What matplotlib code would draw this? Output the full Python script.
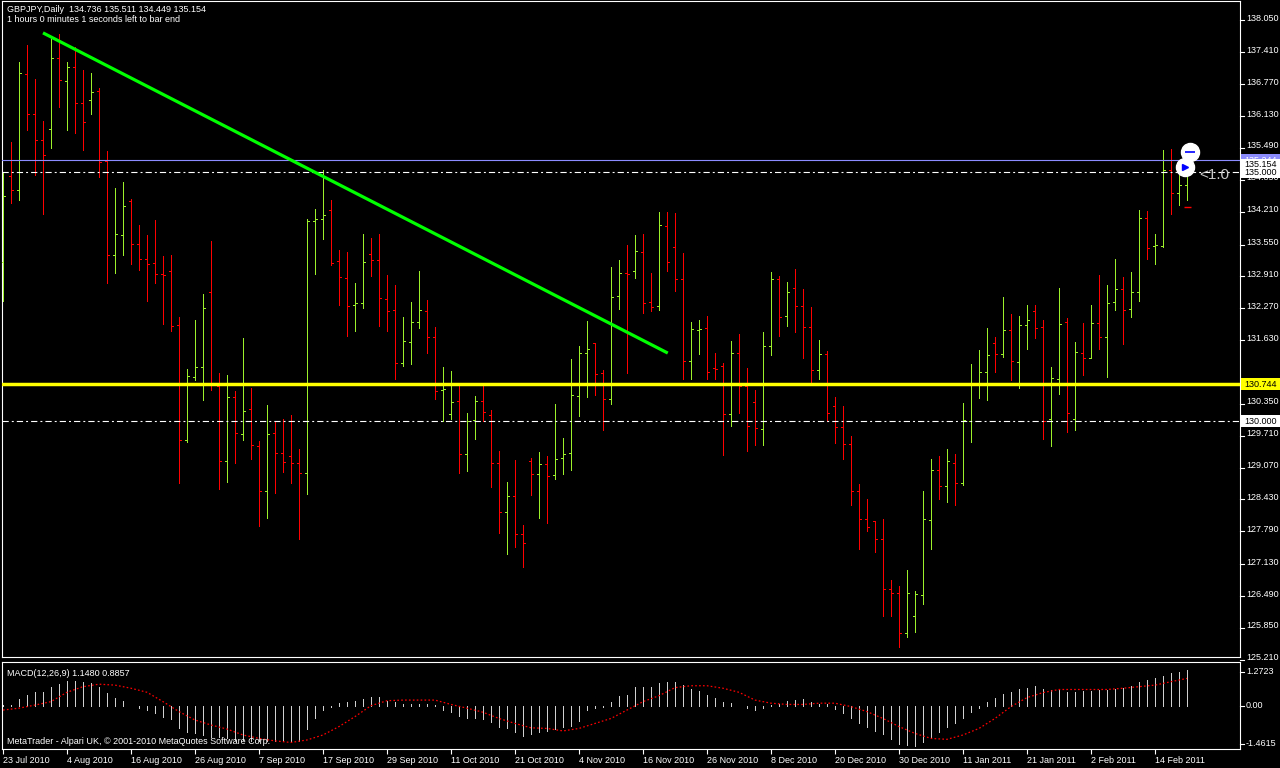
import numpy as np
import matplotlib
matplotlib.use('Agg')
import matplotlib.pyplot as plt
from matplotlib import transforms
from matplotlib.patches import Rectangle

plt.rcParams['font.family'] = ['Liberation Sans', 'DejaVu Sans']
plt.rcParams['lines.scale_dashes'] = False

# ================= text =================
symbol_text = "GBPJPY,Daily  134.736 135.511 134.449 135.154"
timer_text = "1 hours 0 minutes 1 seconds left to bar end"
macd_text = "MACD(12,26,9) 1.1480 0.8857"
copyright_text = "MetaTrader - Alpari UK, \u00a9 2001-2010 MetaQuotes Software Corp."

date_labels = ["23 Jul 2010", "4 Aug 2010", "16 Aug 2010", "26 Aug 2010", "7 Sep 2010",
               "17 Sep 2010", "29 Sep 2010", "11 Oct 2010", "21 Oct 2010", "4 Nov 2010",
               "16 Nov 2010", "26 Nov 2010", "8 Dec 2010", "20 Dec 2010", "30 Dec 2010",
               "11 Jan 2011", "21 Jan 2011", "2 Feb 2011", "14 Feb 2011"]

# ================= daily OHLC =================
opens = [133.20, 134.93, 134.64, 136.97, 136.18, 135.64, 135.86, 137.29, 136.83, 137.11,
         136.39, 136.45, 136.63, 135.22, 133.33, 133.74, 134.42, 133.57, 133.25, 133.17,
         132.95, 133.01, 131.93, 129.62, 130.89, 131.10, 132.59, 130.70, 129.20, 130.48,
         129.74, 130.24, 129.50, 128.61, 129.76, 129.36, 129.30, 129.16, 128.96, 134.02,
         134.06, 134.24, 133.21, 132.87, 132.33, 132.37, 133.35, 133.24, 132.46, 132.23,
         131.17, 131.59, 131.99, 132.21, 131.69, 130.62, 130.14, 130.40, 129.34, 130.02,
         130.40, 130.12, 129.16, 128.17, 128.51, 127.73, 129.20, 128.94, 129.14, 128.92,
         129.26, 129.36, 130.50, 131.37, 131.57, 130.97, 130.44, 132.51, 132.97, 133.01,
         133.39, 132.39, 132.31, 133.92, 133.51, 132.85, 131.22, 131.84, 131.87, 131.08,
         131.11, 130.14, 131.37, 130.70, 130.38, 129.84, 131.51, 132.85, 132.11, 132.67,
         132.31, 131.89, 131.04, 131.35, 130.30, 129.88, 129.54, 128.61, 128.03, 127.99,
         127.63, 126.63, 126.55, 125.74, 126.09, 126.52, 128.01, 129.02, 128.71, 129.16,
         128.76, 130.00, 130.74, 130.99, 131.57, 131.35, 131.83, 131.20, 131.93, 132.21,
         131.89, 130.04, 130.84, 131.99, 130.04, 131.37, 131.27, 131.97, 131.69, 132.39,
         132.65, 132.25, 132.59, 134.08, 133.52, 133.53, 135.04, 134.58, 134.736]
highs = [135.00, 135.61, 137.21, 137.56, 136.87, 136.03, 137.68, 137.78, 137.21, 137.51,
         137.05, 136.99, 136.69, 135.43, 134.68, 134.81, 134.46, 133.94, 133.74, 134.04,
         133.32, 133.34, 132.09, 131.05, 132.03, 132.56, 133.62, 130.96, 130.93, 130.61,
         131.67, 130.67, 129.60, 130.33, 129.99, 130.05, 130.12, 129.44, 134.06, 134.26,
         135.05, 134.44, 133.44, 133.40, 132.78, 133.76, 133.68, 133.76, 132.94, 132.74,
         132.09, 132.40, 133.02, 132.44, 131.89, 131.09, 131.01, 130.75, 130.17, 130.51,
         130.72, 130.23, 129.40, 128.78, 129.22, 127.92, 129.27, 129.38, 129.30, 130.35,
         129.66, 131.25, 131.52, 132.01, 131.57, 131.03, 133.10, 133.24, 133.54, 133.74,
         133.77, 132.98, 134.20, 134.21, 134.19, 133.38, 131.99, 132.03, 132.11, 131.37,
         131.17, 131.61, 131.75, 131.07, 130.63, 131.79, 133.00, 132.92, 132.80, 133.06,
         132.66, 132.30, 131.63, 131.41, 130.49, 130.31, 129.70, 128.74, 128.44, 127.99,
         128.04, 126.81, 126.69, 127.01, 126.59, 128.60, 129.24, 129.30, 129.44, 129.34,
         130.37, 131.15, 131.43, 131.87, 131.69, 132.50, 132.15, 132.11, 132.34, 132.34,
         132.03, 131.09, 132.68, 132.07, 131.59, 131.97, 132.34, 132.94, 132.74, 133.26,
         132.90, 133.00, 134.24, 134.22, 133.76, 135.45, 135.47, 135.01, 135.511]
lows = [132.42, 134.39, 134.44, 135.85, 134.95, 134.17, 135.49, 136.32, 135.84, 135.78,
        135.45, 136.18, 134.91, 132.78, 132.98, 133.34, 133.16, 133.04, 132.42, 132.78,
        131.96, 131.82, 128.77, 129.59, 130.82, 130.43, 130.63, 128.65, 128.79, 129.17,
        129.63, 129.24, 127.90, 128.06, 128.57, 128.99, 128.77, 127.64, 128.55, 132.96,
        133.67, 133.14, 132.34, 131.72, 131.82, 132.28, 132.92, 131.92, 131.82, 130.85,
        131.12, 131.16, 131.88, 131.38, 130.45, 130.00, 130.05, 128.97, 129.01, 129.65,
        130.00, 128.69, 127.76, 127.34, 127.48, 127.08, 128.53, 128.06, 127.96, 128.84,
        128.95, 129.03, 130.11, 130.49, 130.53, 129.83, 130.35, 132.26, 130.96, 132.88,
        132.18, 132.22, 132.23, 133.02, 132.62, 130.84, 130.84, 131.36, 130.84, 130.85,
        129.33, 129.91, 130.17, 129.41, 129.53, 129.53, 131.34, 131.72, 131.92, 131.80,
        131.28, 130.76, 130.84, 130.00, 129.57, 129.24, 128.32, 127.44, 127.80, 127.38,
        126.09, 126.10, 125.47, 125.67, 125.76, 126.34, 127.44, 128.43, 128.38, 128.31,
        128.73, 129.59, 130.47, 130.43, 130.98, 131.30, 130.82, 130.67, 131.45, 131.68,
        129.64, 129.51, 130.55, 129.79, 129.83, 130.93, 131.27, 131.45, 130.88, 132.24,
        131.56, 132.10, 132.42, 133.25, 133.16, 133.51, 134.17, 134.35, 134.449]
closes = [134.52, 134.64, 136.99, 136.18, 135.64, 135.34, 137.29, 136.85, 137.11, 136.39,
          136.02, 136.61, 135.20, 133.33, 133.76, 134.32, 133.57, 133.25, 133.15, 132.95,
          132.93, 131.91, 129.62, 130.90, 131.10, 132.27, 130.73, 129.20, 130.48, 129.76,
          130.20, 129.52, 128.61, 129.74, 129.36, 129.18, 129.16, 128.96, 134.03, 134.06,
          134.14, 133.18, 132.89, 132.31, 132.37, 133.19, 133.24, 132.48, 132.21, 131.17,
          131.61, 131.99, 132.23, 131.69, 130.60, 130.65, 130.39, 129.34, 130.00, 130.40,
          130.18, 129.16, 128.17, 128.51, 127.73, 127.55, 128.94, 129.14, 128.90, 129.24,
          129.34, 130.52, 131.37, 131.45, 130.95, 130.44, 132.49, 132.98, 132.95, 133.41,
          132.37, 132.29, 133.94, 133.19, 132.85, 131.22, 131.85, 131.86, 131.00, 131.06,
          130.14, 131.37, 130.70, 129.90, 129.86, 131.51, 132.85, 132.09, 132.60, 132.31,
          131.89, 131.03, 131.35, 130.16, 129.88, 129.54, 128.61, 128.03, 127.88, 127.63,
          126.63, 126.55, 125.74, 126.56, 126.53, 128.04, 129.02, 128.71, 129.20, 128.76,
          130.02, 130.74, 130.98, 131.33, 131.35, 131.83, 131.22, 131.93, 132.03, 131.87,
          130.00, 130.86, 131.95, 130.16, 131.39, 131.27, 131.97, 131.69, 132.37, 132.65,
          132.23, 132.59, 134.08, 133.49, 133.54, 135.04, 134.58, 134.74, 135.154]

# ================= MACD(12,26,9) =================
macd_hist = [0.03, 0.03, 0.22, 0.35, 0.44, 0.46, 0.62, 0.71, 0.80, 0.80,
             0.76, 0.73, 0.62, 0.41, 0.25, 0.16, 0.01, -0.07, -0.13, -0.24,
             -0.34, -0.42, -0.72, -0.82, -0.88, -0.93, -1.01, -1.01, -1.04, -1.09,
             -1.09, -1.12, -1.12, -1.13, -1.13, -1.13, -1.12, -1.12, -0.74, -0.37,
             -0.13, -0.02, 0.09, 0.14, 0.17, 0.22, 0.29, 0.29, 0.16, 0.14,
             0.05, 0.05, 0.05, 0.05, 0.03, -0.13, -0.18, -0.32, -0.37, -0.40,
             -0.42, -0.50, -0.66, -0.72, -0.84, -0.95, -0.91, -0.82, -0.80, -0.74,
             -0.69, -0.63, -0.48, -0.13, -0.05, -0.02, 0.14, 0.31, 0.35, 0.61,
             0.61, 0.61, 0.74, 0.78, 0.78, 0.67, 0.53, 0.48, 0.35, 0.27,
             0.14, 0.09, 0.01, -0.07, -0.14, -0.07, 0.03, 0.07, 0.17, 0.19,
             0.24, 0.13, 0.07, 0.05, -0.11, -0.24, -0.37, -0.53, -0.66, -0.80,
             -0.91, -1.06, -1.23, -1.25, -1.27, -1.14, -0.99, -0.82, -0.66, -0.56,
             -0.40, -0.18, -0.05, 0.14, 0.25, 0.37, 0.44, 0.55, 0.59, 0.64,
             0.55, 0.51, 0.51, 0.46, 0.46, 0.48, 0.49, 0.50, 0.52, 0.56,
             0.59, 0.64, 0.77, 0.83, 0.89, 0.96, 1.05, 1.10, 1.148]
# signal line read at every second bar
signal_vals = [-0.13, -0.07, 0.03, 0.14, 0.44, 0.62, 0.70, 0.67, 0.57, 0.44,
               0.14, -0.18, -0.45, -0.61, -0.74, -0.93, -1.04, -1.12, -1.17, -1.09,
               -0.93, -0.66, -0.34, 0.01, 0.17, 0.19, 0.19, 0.19, 0.05, -0.07,
               -0.20, -0.40, -0.56, -0.70, -0.72, -0.80, -0.72, -0.56, -0.40, -0.13,
               0.14, 0.33, 0.59, 0.65, 0.65, 0.57, 0.44, 0.19, 0.09, 0.05,
               0.05, 0.09, 0.09, -0.02, -0.18, -0.40, -0.66, -0.88, -1.04, -1.07,
               -0.93, -0.72, -0.40, -0.02, 0.27, 0.43, 0.53, 0.53, 0.53, 0.53,
               0.57, 0.62, 0.67, 0.78, 0.8857]

price_ticks = [138.050, 137.410, 136.770, 136.130, 135.490, 134.850, 134.210, 133.550,
               132.910, 132.270, 131.630, 130.350, 129.710, 129.070, 128.430, 127.790,
               127.130, 126.490, 125.850, 125.210]
macd_tick_labels = ["1.2723", "0.00", "-1.4615"]
macd_tick_pos = [1.10, 0.0, -1.21]

# chart objects
trend_bars = [5.0, 83.1]
trend_prices = [137.80, 131.37]
support_level = 130.744
purple_level = 135.244
bid_level = 135.154
round_levels = [135.000, 130.000]

# ================= plot =================
W, H = 1280, 768
up_color = '#9CF02A'
down_color = '#FF0000'

fig = plt.figure(figsize=(W / 100, H / 100), dpi=100, facecolor='black')


def px_axes(x0, y0, x1, y1):
    return fig.add_axes([x0 / W, 1 - y1 / H, (x1 - x0) / W, (y1 - y0) / H])


ax = px_axes(2, 1, 1240, 657)
ax2 = px_axes(2, 662, 1240, 749)

for a in (ax, ax2):
    a.set_facecolor('black')
    a.set_xlim(-0.125, -0.125 + 1238 / 8)
    for s in a.spines.values():
        s.set_color('white')
        s.set_linewidth(0.8)
    a.set_yticks([])

ax.set_ylim(125.267, 138.44)
ax2.set_ylim(-1.380, 1.412)

n = np.arange(len(opens))
o = np.array(opens)
c = np.array(closes)
colors = np.where(c >= o, up_color, down_color)

ax.vlines(n, lows, highs, colors=colors, lw=0.5, antialiased=False, zorder=3)
ax.hlines(o, n - 0.3, n, colors=colors, lw=0.5, antialiased=False, zorder=3)
ax.hlines(c, n, n + 0.3, colors=colors, lw=0.5, antialiased=False, zorder=3)

# horizontal lines
for lvl in round_levels:
    ax.axhline(lvl, color='white', lw=0.8, dashes=(4.5, 2.2, 1.4, 2.2), zorder=4)
ax.axhline(purple_level, color='#8C8CFF', lw=0.8, zorder=4)
ax.axhline(support_level, color='#FFFF00', lw=2.5, zorder=4)

ax.plot(trend_bars, trend_prices, color='#00FF00', lw=2.3, solid_capstyle='butt', zorder=5)

# markers near the last bar
ax.plot([148.4, 147.75], [135.41, 135.11], 'o', ms=13, mfc='white', mec='white', zorder=7)
ax.plot([147.75], [135.11], '>', ms=5, color='#0000FF', zorder=8)
ax.plot([148.4], [135.41], '_', ms=7, mew=1.2, color='#0000FF', zorder=8)
ax.hlines(134.30, 147.6, 148.5, color='red', lw=1, zorder=6)
fig.text(1199 / W, 1 - 175 / H, "<1.0", color='#C8C8C8', fontsize=11, va='center')

# price axis
trans = transforms.blended_transform_factory(fig.transFigure, ax.transData)
for p in price_ticks:
    ax.text(1246 / W, p + 0.04, f"{p:.3f}", transform=trans, color='white',
            fontsize=6.5, va='center', ha='left', clip_on=False)
    ax.plot([1240 / W, 1244 / W], [p, p], transform=trans, color='white', lw=0.8, clip_on=False)


def price_box(price, text, bg, fg):
    ax.add_patch(Rectangle((1241 / W, price - 0.12), 39 / W, 0.24, transform=trans,
                           facecolor=bg, edgecolor='none', clip_on=False, zorder=10))
    ax.text(1244 / W, price, text, transform=trans, color=fg, fontsize=6.5,
            va='center', ha='left', clip_on=False, zorder=11)


price_box(purple_level, f"{purple_level:.3f}", '#8C8CFF', 'white')
price_box(bid_level, f"{bid_level:.3f}", 'white', 'black')
price_box(135.000, "135.000", 'white', 'black')
price_box(support_level, f"{support_level:.3f}", '#FFFF00', 'black')
price_box(130.000, "130.000", 'white', 'black')

ax.set_xticks([])

# ================= MACD pane =================
ax2.vlines(n, 0, macd_hist, color='#D0D0D0', lw=0.5, antialiased=False)
ax2.plot(n[::2], signal_vals, color='red', lw=0.9, dashes=(1.2, 1.6))

trans2 = transforms.blended_transform_factory(fig.transFigure, ax2.transData)
for v, lab in zip(macd_tick_pos, macd_tick_labels):
    ax2.text(1246 / W, v, lab, transform=trans2, color='white', fontsize=6.5,
             va='center', ha='left', clip_on=False)
    ax2.plot([1240 / W, 1244 / W], [v, v], transform=trans2, color='white', lw=0.8, clip_on=False)

ax2.set_xticks(np.arange(0, 8 * len(date_labels), 8))
ax2.set_xticklabels(date_labels, ha='left')
ax2.tick_params(axis='x', colors='white', labelsize=6.5, length=3.5, width=0.8,
                direction='out', pad=1.5)

fig.text(7 / W, 1 - 9 / H, symbol_text, color='white', fontsize=6.5, va='center')
fig.text(7 / W, 1 - 20 / H, timer_text, color='white', fontsize=6.5, va='center')
fig.text(7 / W, 1 - 674 / H, macd_text, color='white', fontsize=6.5, va='center')
fig.text(7 / W, 1 - 742 / H, copyright_text, color='white', fontsize=6.5, va='center')

plt.savefig("out.png", dpi=100, facecolor='black')
plt.close()
